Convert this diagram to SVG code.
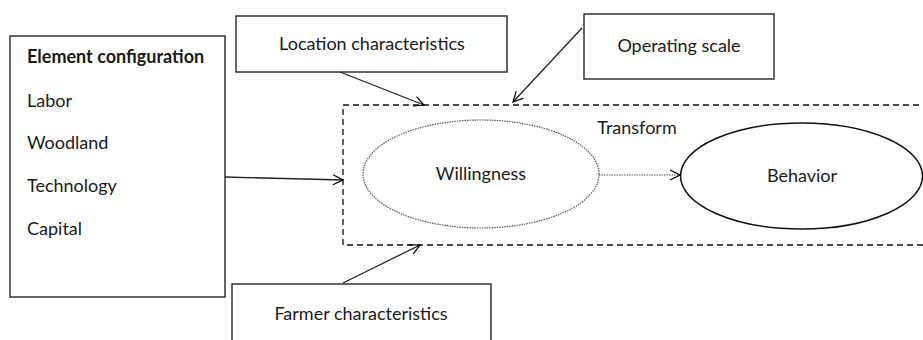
<svg xmlns="http://www.w3.org/2000/svg" width="923" height="340" viewBox="0 0 923 340">
<defs>
<marker id="arr" viewBox="0 0 12 12" refX="11" refY="6" markerWidth="12" markerHeight="12" markerUnits="userSpaceOnUse" orient="auto">
<path d="M1,1 L11,6 L1,11" fill="none" stroke="#000" stroke-width="1.2"/>
</marker>
</defs>
<style>
text{font-family:Lato,"Liberation Sans",sans-serif;font-size:18px;fill:#1a1a1a}
.b{font-weight:bold}
.box{fill:#fff;stroke:#333;stroke-width:1.5}
.c{stroke:#222;stroke-width:1.3;fill:none}
</style>
<rect width="923" height="340" fill="#fff"/>
<g id="transform-region">
<rect x="343" y="105" width="600" height="140" fill="none" stroke="#111" stroke-width="1.3" stroke-dasharray="6,4"/>
<text x="637" y="134" text-anchor="middle">Transform</text>
</g>
<g id="element-configuration">
<rect class="box" x="10" y="36" width="215" height="261"/>
<text class="b" x="27" y="63">Element configuration</text>
<text x="27" y="107">Labor</text>
<text x="27" y="149">Woodland</text>
<text x="27" y="192">Technology</text>
<text x="27" y="235">Capital</text>
</g>
<g id="location-characteristics">
<rect class="box" x="236" y="16" width="271" height="56"/>
<text x="372" y="50" text-anchor="middle">Location characteristics</text>
</g>
<g id="operating-scale">
<rect class="box" x="584" y="14" width="190" height="65"/>
<text x="679" y="52" text-anchor="middle">Operating scale</text>
</g>
<g id="farmer-characteristics">
<rect class="box" x="232" y="284" width="259" height="70"/>
<text x="361" y="320" text-anchor="middle">Farmer characteristics</text>
</g>
<g id="willingness">
<ellipse cx="481" cy="174" rx="118" ry="54" fill="none" stroke="#555" stroke-width="1.2" stroke-dasharray="1.5,1"/>
<text x="481" y="180" text-anchor="middle">Willingness</text>
</g>
<g id="behavior">
<ellipse cx="801.5" cy="176" rx="121" ry="53" fill="none" stroke="#111" stroke-width="1.5"/>
<text x="802" y="182" text-anchor="middle">Behavior</text>
</g>
<g id="connectors">
<line class="c" x1="225" y1="177" x2="343" y2="180" marker-end="url(#arr)"/>
<line class="c" x1="340" y1="72" x2="424" y2="105" marker-end="url(#arr)"/>
<line class="c" x1="582" y1="28" x2="513" y2="102" marker-end="url(#arr)"/>
<line class="c" x1="343" y1="283" x2="420" y2="245" marker-end="url(#arr)"/>
<line x1="599" y1="175" x2="680" y2="175" stroke="#555" stroke-width="1.2" stroke-dasharray="1.5,1" marker-end="url(#arr)"/>
</g>
</svg>
